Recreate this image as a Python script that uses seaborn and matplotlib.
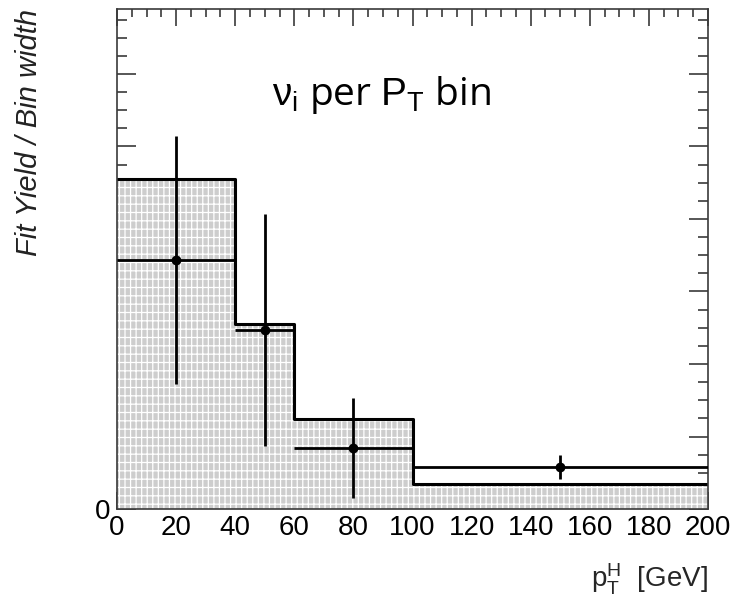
import numpy as np
import pandas as pd
import matplotlib
matplotlib.use("Agg")
import matplotlib.pyplot as plt
import seaborn as sns
from matplotlib.ticker import MultipleLocator

# ---- data ----
bin_edges = [0, 40, 60, 100, 200]
bin_centers = [20, 50, 80, 150]
expected_yield = [4.55, 2.55, 1.24, 0.34]   # grey histogram (yield / bin width)
fit_yield = [3.44, 2.47, 0.84, 0.58]        # fitted points
fit_error = [1.71, 1.60, 0.69, 0.165]       # symmetric errors
x_ticks = [0, 20, 40, 60, 80, 100, 120, 140, 160, 180, 200]
y_major = [0, 1, 2, 3, 4, 5, 6]
y_labels = ["0", "", "", "", "", "", ""]

sns.set_theme(style="ticks")
plt.rcParams["font.family"] = ["Liberation Sans", "DejaVu Sans"]
plt.rcParams["mathtext.fontset"] = "custom"
plt.rcParams["mathtext.rm"] = "Liberation Sans"
plt.rcParams["mathtext.it"] = "Liberation Sans:italic"
plt.rcParams["hatch.color"] = "white"
plt.rcParams["hatch.linewidth"] = 0.9

fig = plt.figure(figsize=(7.35, 5.99), dpi=100)
ax = fig.add_axes([117 / 735, 1 - 509 / 599, 591 / 735, 500 / 599])

df = pd.DataFrame({"pt": bin_centers, "y": expected_yield})
sns.histplot(data=df, x="pt", weights="y", bins=bin_edges, element="step",
             fill=True, color="#cdcdcd", alpha=1, edgecolor="white",
             linewidth=0, hatch="++|", ax=ax)
sns.histplot(data=df, x="pt", weights="y", bins=bin_edges, element="step",
             fill=False, color="black", alpha=1, linewidth=2.2, ax=ax)

centers = np.array(bin_centers, dtype=float)
edges = np.array(bin_edges, dtype=float)
xerr = [centers - edges[:-1], edges[1:] - centers]
ax.errorbar(centers, fit_yield, xerr=xerr, yerr=fit_error, fmt="none",
            ecolor="black", elinewidth=2.0, capsize=0, zorder=5)
sns.scatterplot(x=bin_centers, y=fit_yield, color="black", s=50,
                edgecolor="black", linewidth=0, zorder=6, ax=ax)

ax.set_xlim(0, 200)
ax.set_ylim(0, 500 / 72.5)
ax.set_xticks(x_ticks)
ax.set_xticklabels([str(v) for v in x_ticks])
ax.xaxis.set_minor_locator(MultipleLocator(5))
ax.set_yticks(y_major)
ax.set_yticklabels(y_labels)
ax.yaxis.set_minor_locator(MultipleLocator(0.25))

for s in ax.spines.values():
    s.set_visible(True)
    s.set_linewidth(1.2)
    s.set_color("#3a3a3a")

ax.tick_params(axis="both", which="both", direction="in", top=True,
               right=True, colors="#3a3a3a", width=1.2, labelcolor="black",
               labelsize=20)
ax.tick_params(axis="x", which="major", length=12, pad=4)
ax.tick_params(axis="x", which="minor", length=6)
ax.tick_params(axis="y", which="major", length=14, pad=5)
ax.tick_params(axis="y", which="minor", length=7)

ax.set_ylabel("Fit Yield / Bin width", fontsize=21, style="italic",
              color="#222222", loc="top")
ax.yaxis.set_label_coords(-0.125, 1.0)
ax.set_xlabel(r"$\mathrm{p}_{\mathrm{T}}^{\mathrm{H}}$  [GeV]", fontsize=20,
              loc="right")
ax.xaxis.set_label_coords(1.0, -0.105)

fig.text(272 / 735, 1 - 105 / 599, r"$\mathrm{ν_i}$ per $\mathrm{P_T}$ bin",
         fontsize=28, family=["Open Sans", "DejaVu Sans"], va="baseline",
         ha="left", color="black")

fig.savefig("out.png", dpi=100)
